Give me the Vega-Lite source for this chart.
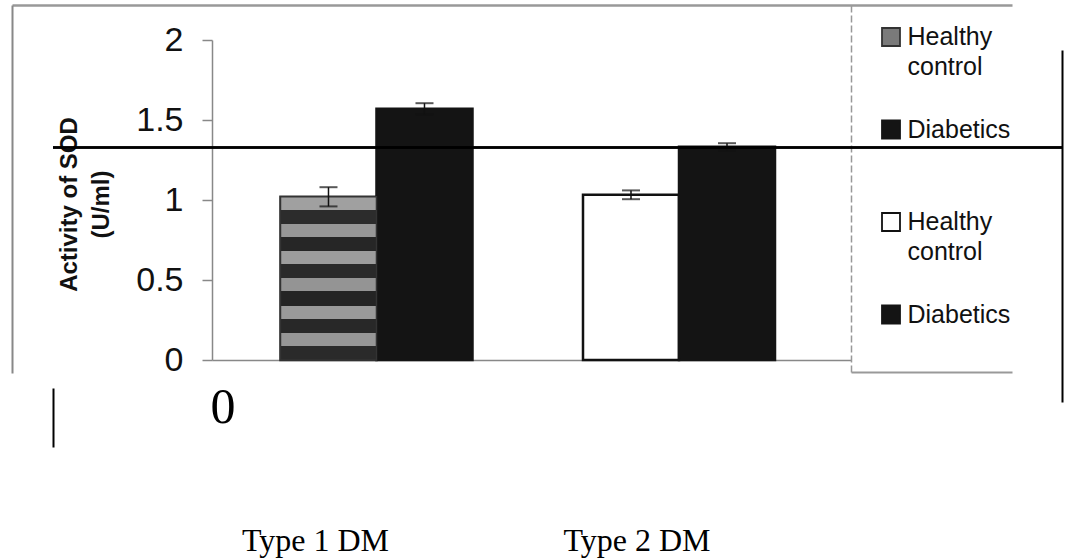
{
  "$schema": "https://vega.github.io/schema/vega-lite/v6.json",
  "width": 1009,
  "height": 355,
  "autosize": {"type": "none"},
  "padding": {"left": 53, "top": 5, "right": 3, "bottom": 199},
  "background": "white",
  "config": {
    "view": {"stroke": null},
    "style": {"guide-label": {"lineHeight": 29.5}}
  },
  "data": {
    "values": [
      {"group": "Type 1 DM", "series": "Healthy control", "key": "T1 Healthy control", "mean": 1.02, "lo": 0.96, "hi": 1.08},
      {"group": "Type 1 DM", "series": "Diabetics", "key": "T1 Diabetics", "mean": 1.57, "lo": 1.535, "hi": 1.605},
      {"group": "Type 2 DM", "series": "Healthy control", "key": "T2 Healthy control", "mean": 1.033, "lo": 1.005, "hi": 1.06},
      {"group": "Type 2 DM", "series": "Diabetics", "key": "T2 Diabetics", "mean": 1.333, "lo": 1.31, "hi": 1.355}
    ]
  },
  "layer": [
    {
      "layer": [
        {
          "mark": {"type": "bar", "strokeWidth": 2.5},
          "encoding": {
            "x": {
              "field": "group", "type": "nominal",
              "scale": {"range": [159, 798], "paddingInner": 0.3653, "paddingOuter": 0.2388, "align": 0.474},
              "axis": {
                "orient": "bottom", "title": "0",
                "titleFont": "Liberation Serif", "titleFontSize": 50, "titleFontWeight": "normal", "titleColor": "#000",
                "titleX": 169.5, "titleY": 62, "titleBaseline": "alphabetic", "titleAlign": "center",
                "labelAngle": 0, "labelFont": "Liberation Serif", "labelFontSize": 32, "labelColor": "#000",
                "labelPadding": 165,
                "labelOffset": {"condition": {"test": "datum.value === 'Type 1 DM'", "value": -61}, "value": -42},
                "ticks": false, "domainColor": "#888", "domainWidth": 1.5, "grid": false
              }
            },
            "xOffset": {"field": "series", "type": "nominal", "sort": ["Healthy control", "Diabetics"], "scale": {"paddingInner": 0, "paddingOuter": 0}},
            "y": {
              "field": "mean", "type": "quantitative",
              "scale": {"domain": [0, 2], "range": [355, 35], "nice": false, "zero": true},
              "axis": {
                "orient": "left", "offset": -159, "values": [0, 0.5, 1, 1.5, 2], "format": "~g",
                "labelFont": "Liberation Sans", "labelFontSize": 34, "labelColor": "#111", "labelPadding": 19,
                "tickSize": 10, "tickColor": "#888", "tickWidth": 1.5,
                "domainColor": "#888", "domainWidth": 1.5, "grid": false,
                "title": ["Activity of SOD", "(U/ml)"],
                "titleFont": "Liberation Sans", "titleFontSize": 24, "titleFontWeight": "bold", "titleColor": "#111",
                "titleLineHeight": 32, "titleX": -136, "titleY": 199, "titleBaseline": "alphabetic", "titleAlign": "center"
              }
            },
            "fill": {
              "field": "key", "type": "nominal",
              "scale": {
                "domain": ["T1 Healthy control", "T1 Diabetics", "T2 Healthy control", "T2 Diabetics"],
                "range": ["#7a7a7a", "#141414", "#ffffff", "#141414"]
              },
              "legend": {
                "orient": "none", "legendX": 825.5, "legendY": 19.5, "title": null, "padding": 0,
                "symbolType": "square", "symbolSize": 324, "symbolStrokeColor": "#222", "symbolStrokeWidth": 1.8,
                "labelFont": "Liberation Sans", "labelFontSize": 25, "labelColor": "#111", "labelOffset": 4,
                "rowPadding": 36.5, "labelLimit": 300,
                "labelExpr": "indexof(datum.label, 'Healthy') >= 0 ? ['Healthy', 'control'] : ['Diabetics', '']"
              }
            },
            "stroke": {
              "field": "key", "type": "nominal",
              "scale": {
                "domain": ["T1 Healthy control", "T1 Diabetics", "T2 Healthy control", "T2 Diabetics"],
                "range": ["#333333", "#141414", "#111111", "#141414"]
              },
              "legend": null
            }
          }
        },
        {
          "transform": [{"filter": "datum.key === 'T1 Healthy control'"}],
          "mark": {
            "type": "bar", "stroke": "#333", "strokeWidth": 1.5,
            "fill": {"gradient": "linear", "x1": 0, "y1": 0, "x2": 0, "y2": 1, "stops": [
              {"offset": 0, "color": "#a0a0a0"}, {"offset": 0.08, "color": "#a0a0a0"},
              {"offset": 0.08, "color": "#2c2c2c"}, {"offset": 0.167, "color": "#2c2c2c"},
              {"offset": 0.167, "color": "#979797"}, {"offset": 0.247, "color": "#979797"},
              {"offset": 0.247, "color": "#262626"}, {"offset": 0.333, "color": "#262626"},
              {"offset": 0.333, "color": "#9d9d9d"}, {"offset": 0.413, "color": "#9d9d9d"},
              {"offset": 0.413, "color": "#2a2a2a"}, {"offset": 0.5, "color": "#2a2a2a"},
              {"offset": 0.5, "color": "#949494"}, {"offset": 0.58, "color": "#949494"},
              {"offset": 0.58, "color": "#242424"}, {"offset": 0.667, "color": "#242424"},
              {"offset": 0.667, "color": "#9a9a9a"}, {"offset": 0.747, "color": "#9a9a9a"},
              {"offset": 0.747, "color": "#282828"}, {"offset": 0.833, "color": "#282828"},
              {"offset": 0.833, "color": "#969696"}, {"offset": 0.913, "color": "#969696"},
              {"offset": 0.913, "color": "#2a2a2a"}, {"offset": 1, "color": "#2a2a2a"}
            ]}
          },
          "encoding": {
            "x": {"field": "group", "type": "nominal", "scale": {"range": [159, 798], "paddingInner": 0.3653, "paddingOuter": 0.2388, "align": 0.474}},
            "xOffset": {"field": "series", "type": "nominal", "sort": ["Healthy control", "Diabetics"], "scale": {"paddingInner": 0, "paddingOuter": 0}},
            "y": {"field": "mean", "type": "quantitative", "scale": {"domain": [0, 2], "range": [355, 35], "nice": false, "zero": true}}
          }
        },
        {
          "mark": {"type": "rule", "color": "#111", "strokeWidth": 1.5},
          "encoding": {
            "x": {"field": "group", "type": "nominal", "scale": {"range": [159, 798], "paddingInner": 0.3653, "paddingOuter": 0.2388, "align": 0.474}},
            "xOffset": {"field": "series", "type": "nominal", "sort": ["Healthy control", "Diabetics"], "scale": {"paddingInner": 0, "paddingOuter": 0}},
            "y": {"field": "lo", "type": "quantitative", "scale": {"domain": [0, 2], "range": [355, 35], "nice": false, "zero": true}},
            "y2": {"field": "hi"}
          }
        },
        {
          "mark": {"type": "tick", "color": "#111", "size": 18, "thickness": 2},
          "encoding": {
            "x": {"field": "group", "type": "nominal", "scale": {"range": [159, 798], "paddingInner": 0.3653, "paddingOuter": 0.2388, "align": 0.474}},
            "xOffset": {"field": "series", "type": "nominal", "sort": ["Healthy control", "Diabetics"], "scale": {"paddingInner": 0, "paddingOuter": 0}},
            "y": {"field": "hi", "type": "quantitative", "scale": {"domain": [0, 2], "range": [355, 35], "nice": false, "zero": true}}
          }
        },
        {
          "mark": {"type": "tick", "color": "#111", "size": 18, "thickness": 2},
          "encoding": {
            "x": {"field": "group", "type": "nominal", "scale": {"range": [159, 798], "paddingInner": 0.3653, "paddingOuter": 0.2388, "align": 0.474}},
            "xOffset": {"field": "series", "type": "nominal", "sort": ["Healthy control", "Diabetics"], "scale": {"paddingInner": 0, "paddingOuter": 0}},
            "y": {"field": "lo", "type": "quantitative", "scale": {"domain": [0, 2], "range": [355, 35], "nice": false, "zero": true}}
          }
        },
        {
          "mark": {"type": "rule", "color": "#000", "strokeWidth": 2},
          "encoding": {
            "y": {"datum": 1.328, "type": "quantitative", "scale": {"domain": [0, 2], "range": [355, 35], "nice": false, "zero": true}}
          }
        }
      ]
    },
    {
      "mark": {"type": "point", "opacity": 0},
      "encoding": {
        "x": {"field": "mean", "type": "quantitative", "scale": {"domain": [0, 1], "range": [-41, 959], "zero": false, "nice": false},
          "axis": {"orient": "top", "offset": 0, "domainColor": "#999", "domainWidth": 2.5, "ticks": false, "labels": false, "title": null, "grid": false}},
        "y": {"field": "mean", "type": "quantitative", "scale": {"domain": [0, 1], "range": [0, 368], "zero": false, "nice": false},
          "axis": {"orient": "left", "offset": 41, "domainColor": "#888", "domainWidth": 2, "ticks": false, "labels": false, "title": null, "grid": false}}
      }
    },
    {
      "mark": {"type": "point", "opacity": 0},
      "encoding": {
        "x": {"field": "mean", "type": "quantitative", "scale": {"domain": [0, 1], "range": [798, 959], "zero": false, "nice": false},
          "axis": {"orient": "bottom", "offset": 12, "domainColor": "#999", "domainWidth": 2, "ticks": false, "labels": false, "title": null, "grid": false}},
        "y": {"field": "mean", "type": "quantitative", "scale": {"domain": [0, 1], "range": [0, 367], "zero": false, "nice": false},
          "axis": {"orient": "right", "offset": -211, "domainColor": "#999", "domainWidth": 1.5, "domainDash": [7, 3], "ticks": false, "labels": false, "title": null, "grid": false}}
      }
    },
    {
      "mark": {"type": "point", "opacity": 0},
      "encoding": {
        "y": {"field": "mean", "type": "quantitative", "scale": {"domain": [0, 1], "range": [45, 397], "zero": false, "nice": false},
          "axis": {"orient": "right", "offset": 0, "domainColor": "#000", "domainWidth": 2, "ticks": false, "labels": false, "title": null, "grid": false}}
      }
    },
    {
      "mark": {"type": "point", "opacity": 0},
      "encoding": {
        "y": {"field": "mean", "type": "quantitative", "scale": {"domain": [0, 1], "range": [383, 442], "zero": false, "nice": false},
          "axis": {"orient": "left", "offset": 0, "domainColor": "#000", "domainWidth": 2, "ticks": false, "labels": false, "title": null, "grid": false}}
      }
    }
  ],
  "resolve": {"scale": {"x": "independent", "y": "independent"}}
}
